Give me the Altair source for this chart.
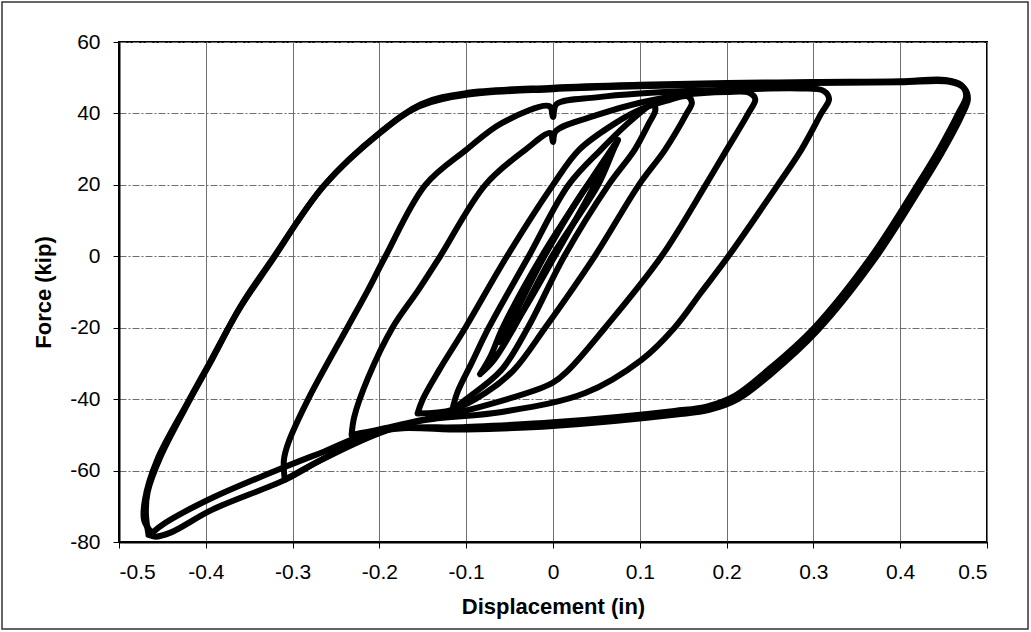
import altair as alt
import pandas as pd

# Hysteresis cycles: displacement (in) and force (kip), each cycle listed
# from its negative peak, up the loading branch, and back down again.
A1_X = [-0.466, -0.469, -0.467, -0.452, -0.418, -0.393, -0.360, -0.324, -0.263, -0.198, -0.152, -0.100,
        0.000, 0.100, 0.200, 0.300, 0.400, 0.452, 0.470, 0.476, 0.467, 0.445, 0.420, 0.367, 0.301,
        0.248, 0.210, 0.178, 0.140, 0.000, -0.100, -0.198, -0.267, -0.309, -0.393, -0.440, -0.458, -0.466]
A1_Y = [-78.0, -72.0, -66.0, -56.0, -40.0, -29.0, -14.0, -1.0, 20.0, 34.8, 42.6, 45.7,
        47.2, 48.0, 48.5, 48.8, 49.0, 49.4, 48.0, 45.0, 40.0, 30.0, 20.0, 0.0, -20.0,
        -31.8, -39.0, -42.0, -43.3, -46.5, -47.8, -49.0, -57.0, -62.6, -71.0, -77.3, -78.5, -78.0]

A2_X = [-0.462, -0.471, -0.470, -0.456, -0.421, -0.396, -0.362, -0.326, -0.265, -0.200, -0.154, -0.100,
        0.000, 0.100, 0.200, 0.300, 0.400, 0.458, 0.474, 0.478, 0.470, 0.448, 0.423, 0.370, 0.304,
        0.251, 0.213, 0.180, 0.142, 0.000, -0.100, -0.198, -0.267, -0.309, -0.393, -0.447, -0.462]
A2_Y = [-77.5, -74.0, -68.0, -57.0, -41.0, -30.0, -15.0, -2.0, 19.5, 34.5, 42.0, 45.2,
        46.8, 47.6, 48.2, 48.5, 48.7, 48.8, 47.0, 44.0, 39.0, 29.0, 19.0, -1.0, -21.0,
        -33.0, -40.0, -43.0, -44.3, -47.5, -48.5, -48.6, -55.0, -59.0, -67.7, -74.7, -77.5]

B_X = [-0.309, -0.310, -0.305, -0.282, -0.237, -0.213, -0.193, -0.147, -0.100, -0.059, -0.004, 0.000,
       0.004, 0.050, 0.100, 0.200, 0.285, 0.312, 0.318, 0.309, 0.286, 0.259, 0.202, 0.171, 0.140,
       0.102, 0.037, -0.059, -0.151, -0.200, -0.267, -0.309]
B_Y = [-62.6, -57.0, -52.3, -40.0, -20.0, -9.4, 0.0, 20.0, 29.8, 37.3, 42.0, 39.0,
       42.6, 44.5, 45.6, 46.6, 47.0, 46.3, 44.0, 40.0, 29.8, 20.0, 0.0, -10.0, -20.0,
       -29.0, -38.3, -43.6, -46.0, -49.5, -57.0, -62.6]

C_X = [-0.232, -0.229, -0.213, -0.185, -0.155, -0.130, -0.078, -0.032, -0.003, 0.000, 0.003, 0.050,
       0.100, 0.150, 0.200, 0.226, 0.233, 0.225, 0.200, 0.176, 0.125, 0.060, 0.018, -0.001,
       -0.097, -0.151, -0.200, -0.232]
C_Y = [-50.0, -45.0, -34.0, -20.0, -9.4, 0.0, 20.0, 29.8, 34.5, 32.0, 35.0, 39.5,
       43.0, 45.2, 46.0, 45.8, 44.0, 40.0, 29.8, 20.0, 0.0, -20.0, -31.8, -35.5,
       -43.0, -45.8, -48.5, -50.0]

D_X = [-0.156, -0.150, -0.131, -0.101, -0.053, 0.000, 0.030, 0.070, 0.100, 0.130, 0.155, 0.160,
       0.154, 0.129, 0.099, 0.048, -0.009, -0.045, -0.078, -0.116, -0.156]
D_Y = [-44.0, -40.0, -31.8, -20.0, 0.0, 20.0, 29.8, 37.0, 41.0, 43.5, 44.8, 43.0,
       40.0, 29.8, 20.0, 0.0, -20.0, -31.8, -38.3, -43.0, -44.0]

E_X = [-0.116, -0.110, -0.094, -0.074, -0.028, 0.018, 0.055, 0.090, 0.115, 0.118, 0.110, 0.094,
       0.064, 0.013, -0.029, -0.060, -0.100, -0.116]
E_Y = [-43.0, -38.0, -30.0, -20.0, 0.0, 20.0, 29.8, 38.0, 42.5, 41.0, 37.0, 29.8,
       20.0, 0.0, -20.0, -32.0, -40.0, -43.0]

S1_X = [-0.084, -0.072, -0.058, -0.013, 0.040, 0.062, 0.075, 0.070, 0.052, -0.001, -0.045, -0.068, -0.084]
S1_Y = [-33.0, -28.0, -20.0, 0.0, 20.0, 28.0, 32.6, 30.0, 20.0, 0.0, -20.0, -29.0, -33.0]

S2_X = [-0.062, -0.050, -0.010, 0.040, 0.058, 0.048, 0.002, -0.044, -0.062]
S2_Y = [-24.0, -19.0, 0.0, 20.0, 25.0, 20.0, 0.0, -19.0, -24.0]

X_TICKS = [-0.5, -0.4, -0.3, -0.2, -0.1, 0.0, 0.1, 0.2, 0.3, 0.4, 0.5]
Y_TICKS = [-80, -60, -40, -20, 0, 20, 40, 60]

cycles = {
    "S2": (S2_X, S2_Y), "S1": (S1_X, S1_Y), "E": (E_X, E_Y), "D": (D_X, D_Y),
    "C": (C_X, C_Y), "B": (B_X, B_Y), "A1": (A1_X, A1_Y), "A2": (A2_X, A2_Y),
}
rows = []
for name, (xs, ys) in cycles.items():
    for i, (xv, yv) in enumerate(zip(xs, ys)):
        rows.append({"cycle": name, "i": i, "disp": xv, "force": yv})
df = pd.DataFrame(rows)

FONT = "Liberation Sans"

loops = alt.Chart(df).mark_line(
    interpolate="catmull-rom", color="black", strokeWidth=6,
    strokeJoin="round", strokeCap="round"
).encode(
    x=alt.X("disp:Q", scale=alt.Scale(domain=[-0.5, 0.5], nice=False, zero=False),
            axis=alt.Axis(values=X_TICKS, title="Displacement (in)",
                          labelExpr="datum.value == 0 ? '0' : (datum.value < 0 ? '-' : '') + format(abs(datum.value), '.1f')")),
    y=alt.Y("force:Q", scale=alt.Scale(domain=[-80, 60], nice=False, zero=False),
            axis=alt.Axis(values=Y_TICKS, title="Force (kip)",
                          labelExpr="(datum.value < 0 ? '-' : '') + format(abs(datum.value), 'd')")),
    detail="cycle:N",
    order="i:Q",
)

# thin frame around the whole figure
frame = alt.Chart(pd.DataFrame({"k": [0]})).mark_rect(
    filled=False, stroke="#333333", strokeWidth=1.5
).encode(
    x=alt.value(-117), x2=alt.value(909), y=alt.value(-40), y2=alt.value(587)
)

chart = alt.layer(frame, loops).properties(
    width=868, height=500,
    autosize=alt.AutoSizeParams(type="none"),
    padding={"left": 119, "top": 42, "right": 44, "bottom": 90},
    background="white",
).configure(font=FONT).configure_view(
    stroke="black", strokeWidth=2
).configure_axis(
    labelFont=FONT, titleFont=FONT, labelFontSize=21, titleFontSize=22,
    titleFontWeight="bold", labelColor="black", titleColor="black",
    tickColor="black", tickSize=6, tickWidth=1, domainColor="black", domainWidth=2,
    grid=True, gridWidth=1,
).configure_axisX(
    gridColor="#6e6e6e", gridDash=[], labelPadding=13, titlePadding=14,
).configure_axisY(
    gridColor="#6e6e6e", gridDash=[7, 2, 2, 2], labelPadding=13, titlePadding=14,
)

chart.save("out.html", embed_options={"renderer": "svg", "actions": False})
